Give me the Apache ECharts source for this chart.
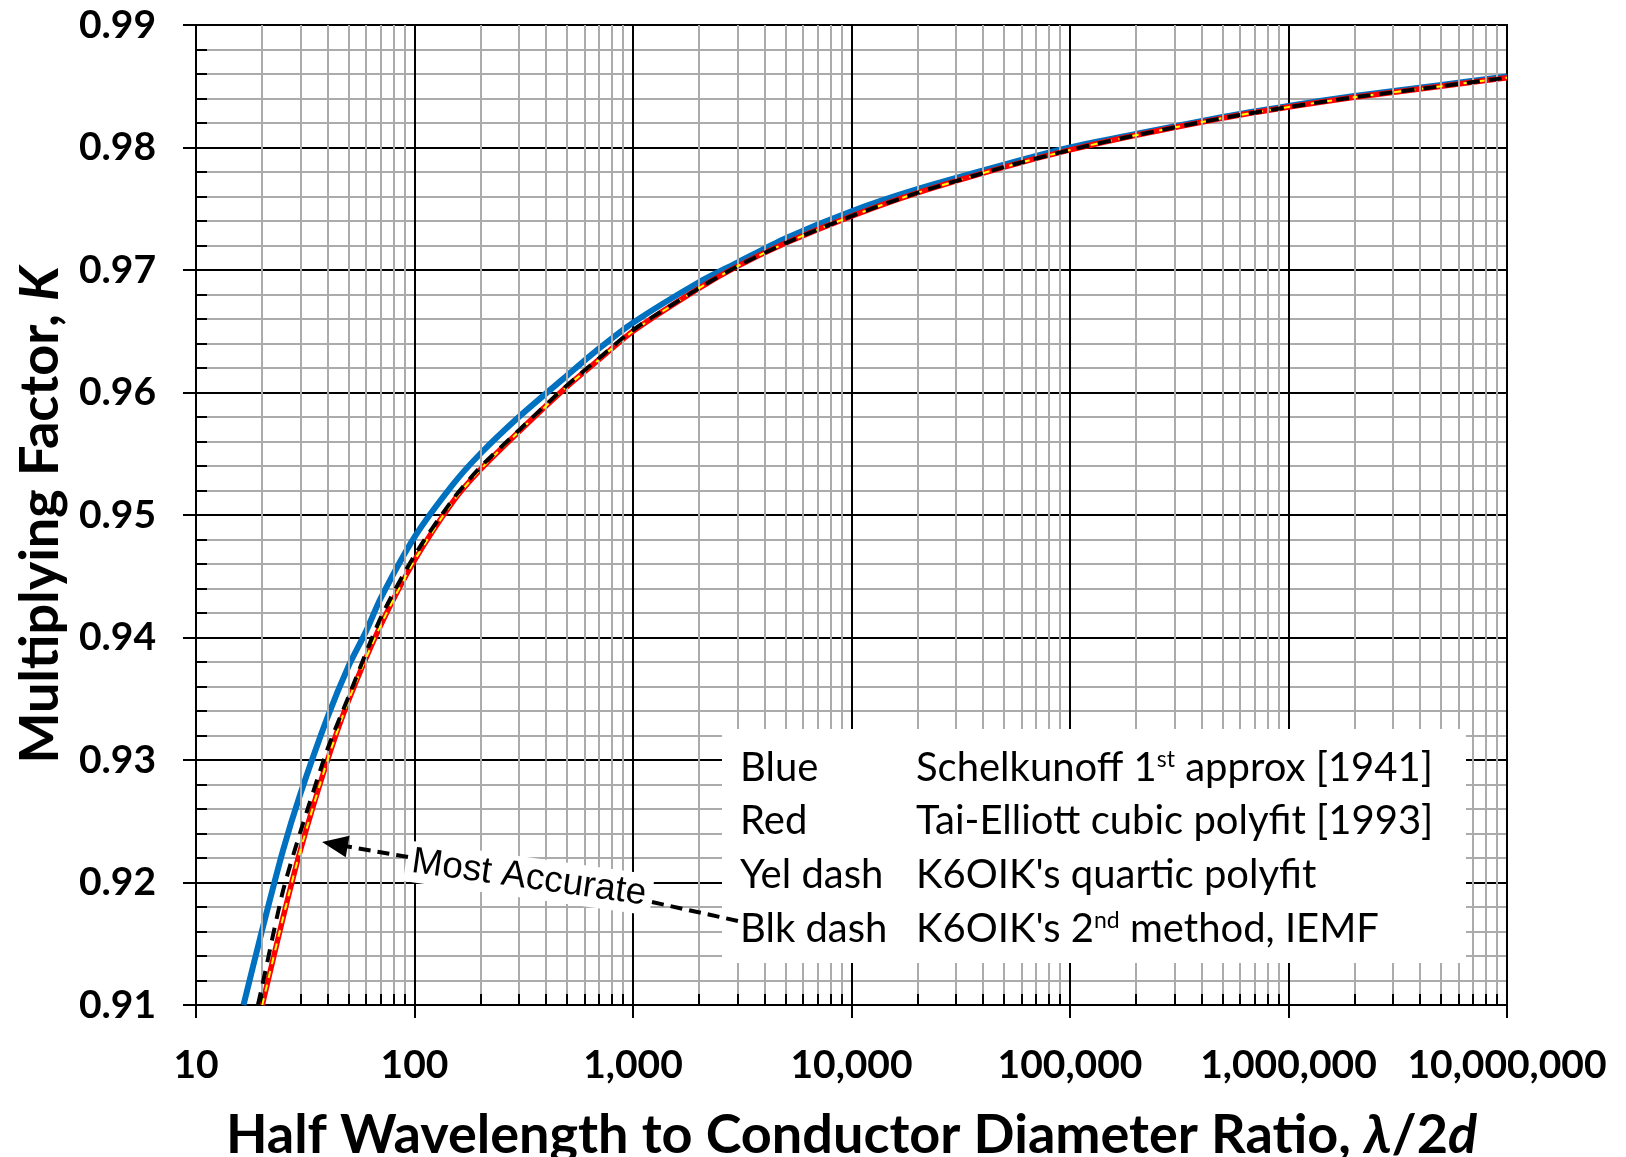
<!DOCTYPE html>
<html><head><meta charset="utf-8">
<script src="https://cdn.jsdelivr.net/npm/echarts@6/dist/echarts.min.js"></script>
<style>html,body{margin:0;padding:0;background:#fff}#c{width:1626px;height:1157px}</style>
</head><body><div id="c"></div>
<script>
// ---- tick labels ----
const xTickLabels = ['10', '100', '1,000', '10,000', '100,000', '1,000,000', '10,000,000'];
const yTickLabels = ['0.91', '0.92', '0.93', '0.94', '0.95', '0.96', '0.97', '0.98', '0.99'];
const minorMultipliers = [2, 3, 4, 5, 6, 7, 8, 9];
const decades = [10, 100, 1000, 10000, 100000, 1000000];

// ---- series values (lambda/2d ratio, K) ----
const blueX = [16.5, 20, 25, 30, 40, 50, 60, 70, 100, 150, 200, 300, 500, 700, 1000, 2000, 3000, 5000, 1e4, 2e4, 5e4, 1e5, 2e5, 5e5, 1e6, 2e6, 5e6, 1e7];
const blueK = [0.9100, 0.9160, 0.9226, 0.9272, 0.9335, 0.9377, 0.9405, 0.9432, 0.9482, 0.9525, 0.9550, 0.9580, 0.9614, 0.9636, 0.9657, 0.9690, 0.9706, 0.9726, 0.9748, 0.9766, 0.9786, 0.9800, 0.9811, 0.9825, 0.9834, 0.9842, 0.9851, 0.9858];

const redX = [20.1, 25, 30, 40, 50, 70, 100, 150, 200, 300, 500, 700, 1000, 2000, 3000, 5000, 1e4, 2e4, 5e4, 1e5, 2e5, 5e5, 1e6, 2e6, 5e6, 1e7];
const redK = [0.9100, 0.9171, 0.9226, 0.9300, 0.9349, 0.9410, 0.9463, 0.9511, 0.9537, 0.9568, 0.9605, 0.9627, 0.9650, 0.9685, 0.9703, 0.9722, 0.9744, 0.9763, 0.9784, 0.9798, 0.9810, 0.9824, 0.9833, 0.9841, 0.9850, 0.9857];

const yelX = [20.1, 25, 30, 40, 50, 70, 100, 150, 200, 300, 500, 700, 1000, 2000, 3000, 5000, 1e4, 2e4, 5e4, 1e5, 2e5, 5e5, 1e6, 2e6, 5e6, 1e7];
const yelK = [0.9100, 0.9171, 0.9226, 0.9300, 0.9349, 0.9410, 0.9463, 0.9511, 0.9537, 0.9568, 0.9605, 0.9627, 0.9650, 0.9685, 0.9703, 0.9722, 0.9744, 0.9763, 0.9784, 0.9798, 0.9810, 0.9824, 0.9833, 0.9841, 0.9850, 0.9857];

const blkX = [19.2, 20, 25, 30, 40, 50, 70, 100, 150, 200, 300, 500, 700, 1000, 2000, 3000, 5000, 1e4, 2e4, 5e4, 1e5, 2e5, 5e5, 1e6, 2e6, 5e6, 1e7];
const blkK = [0.9100, 0.9114, 0.9193, 0.9241, 0.9309, 0.9352, 0.9416, 0.9467, 0.9513, 0.9539, 0.9569, 0.9606, 0.9628, 0.9651, 0.9685, 0.9703, 0.9722, 0.9744, 0.9763, 0.9784, 0.9798, 0.9810, 0.9824, 0.9833, 0.9841, 0.9850, 0.9857];

const legendRows = [
  ['Blue', 'Schelkunoff 1{sup|st} approx [1941]'],
  ['Red', 'Tai-Elliott cubic polyfit [1993]'],
  ['Yel dash', "K6OIK's quartic polyfit"],
  ['Blk dash', "K6OIK's 2{sup|nd} method, IEMF"]
];

const pair = (xs, ks) => xs.map((x, i) => [x, ks[i]]);
const minorX = [];
decades.forEach(d => minorMultipliers.forEach(m => minorX.push(m * d)));

const FONT = 'Lato';
const GRAY = '#ABABAB';
const chart = echarts.init(document.getElementById('c'), null, {renderer: 'canvas'});

function lineCurve(name, data, color, width, z, dash) {
  return {
    name, type: 'line', data, z, showSymbol: false, symbol: 'none',
    smooth: 0.25, animation: false, silent: true,
    lineStyle: {color, width, type: dash || 'solid', cap: 'butt'}
  };
}

const yAxisBase = {type: 'value', min: 0.91, max: 0.99, interval: 0.01};
const titleStyle = {
  color: '#000', fontFamily: FONT, fontWeight: 'bold', fontSize: 54,
  rich: {i: {fontFamily: FONT, fontWeight: 'bold', fontStyle: 'italic', fontSize: 54, color: '#000'}}
};

const option = {
  backgroundColor: '#fff',
  animation: false,
  grid: {left: 196, right: 119, top: 25, bottom: 152, containLabel: false, outerBoundsMode: 'none',
    show: true, borderColor: '#000', borderWidth: 2, backgroundColor: 'transparent'},
  xAxis: [{
    type: 'log', logBase: 10, min: 10, max: 1e7, interval: 1,
    axisLine: {show: true, lineStyle: {color: '#000', width: 2}},
    axisTick: {show: true, length: 13, lineStyle: {color: '#000', width: 2}},
    splitLine: {show: true, lineStyle: {color: '#000', width: 2}},
    axisLabel: {
      show: true, margin: 41, color: '#000', fontFamily: FONT, fontWeight: 'bold', fontSize: 39,
      formatter: v => xTickLabels[Math.round(Math.log10(v)) - 1]
    },
    name: 'Half Wavelength to Conductor Diameter Ratio, {i|λ}/2{i|d}',
    nameLocation: 'middle', nameGap: 104,
    nameTextStyle: titleStyle
  }],
  yAxis: [Object.assign({}, yAxisBase, {
    position: 'left',
    axisLine: {show: true, lineStyle: {color: '#000', width: 2}},
    axisTick: {show: true, length: 13, lineStyle: {color: '#000', width: 2}},
    minorTick: {show: false, splitNumber: 5},
    splitLine: {show: true, lineStyle: {color: '#000', width: 2}},
    minorSplitLine: {show: true, lineStyle: {color: GRAY, width: 2}},
    axisLabel: {
      margin: 40, color: '#000', fontFamily: FONT, fontWeight: 'bold', fontSize: 39,
      formatter: v => yTickLabels[Math.round((v - 0.91) * 100)]
    },
    name: 'Multiplying Factor, {i|K}',
    nameLocation: 'middle', nameRotate: 90, nameGap: 126,
    nameTextStyle: titleStyle
  }), Object.assign({}, yAxisBase, {
    position: 'left', offset: 0,
    axisLine: {show: false},
    axisTick: {show: false, inside: true},
    minorTick: {show: true, splitNumber: 5, length: 11, lineStyle: {color: '#000', width: 2}},
    splitLine: {show: false},
    axisLabel: {show: false}
  })],
  series: [
    {
      name: 'grid-minor', type: 'line', data: [], z: 1, silent: true, animation: false,
      markLine: {
        silent: true, animation: false, symbol: ['none', 'none'], label: {show: false},
        lineStyle: {color: GRAY, width: 2, type: 'solid'},
        data: minorX.map(v => ({xAxis: v}))
      }
    },
    {
      name: 'minor-ticks', type: 'line', data: [], z: 2, silent: true, animation: false,
      markLine: {
        silent: true, animation: false, symbol: ['none', 'none'], label: {show: false},
        lineStyle: {color: '#000', width: 2, type: 'solid'},
        data: minorX.map(v => [{coord: [v, 0.91]}, {coord: [v, 0.9109]}])
      }
    },
    lineCurve('Blue', pair(blueX, blueK), '#0070C0', 6, 3),
    lineCurve('Red', pair(redX, redK), '#FF0000', 5.5, 4),
    lineCurve('Yel dash', pair(yelX, yelK), '#FFFF00', 2, 5, [7, 7]),
    lineCurve('Blk dash', pair(blkX, blkK), '#000000', 4, 6, [13, 9])
  ],
  graphic: []
};
chart.setOption(option);

// ---- annotations ----
const g = [];
g.push({type: 'rect', z: 20, silent: true, shape: {x: 722, y: 729, width: 744, height: 234}, style: {fill: '#fff'}});
const rowY = [768, 821, 875, 929];
legendRows.forEach((r, i) => {
  const rich = {sup: {fontFamily: FONT, fontSize: 23, verticalAlign: 'top', lineHeight: 30, fill: '#000'}};
  g.push({type: 'text', z: 21, silent: true, x: 740, y: rowY[i],
    style: {text: r[0], fill: '#000', fontFamily: FONT, fontSize: 40, verticalAlign: 'middle', align: 'left'}});
  g.push({type: 'text', z: 21, silent: true, x: 916, y: rowY[i],
    style: {text: r[1], fill: '#000', fontFamily: FONT, fontSize: 40, verticalAlign: 'middle', align: 'left', rich: rich}});
});
const ang = 8 * Math.PI / 180;
g.push({type: 'text', z: 21, silent: true, x: 529, y: 878, rotation: -ang,
  style: {text: 'Most Accurate', fill: '#000', fontFamily: 'Liberation Sans', fontSize: 37, align: 'center', verticalAlign: 'middle',
    backgroundColor: '#fff', padding: [2, 6, 2, 6]}});
const tip = [322, 842], tail = [408, 857];
const dx = tip[0] - tail[0], dy = tip[1] - tail[1];
const L = Math.hypot(dx, dy), ux = dx / L, uy = dy / L;
const headLen = 26, headW = 11;
const base = [tip[0] - ux * headLen, tip[1] - uy * headLen];
g.push({type: 'line', z: 22, silent: true, shape: {x1: tail[0], y1: tail[1], x2: base[0] + ux * 2, y2: base[1] + uy * 2},
  style: {stroke: '#000', lineWidth: 4, lineDash: [12, 7]}});
g.push({type: 'polygon', z: 22, silent: true, shape: {points: [tip, [base[0] - uy * headW, base[1] + ux * headW], [base[0] + uy * headW, base[1] - ux * headW]]},
  style: {fill: '#000'}});
g.push({type: 'line', z: 22, silent: true, shape: {x1: 652, y1: 902, x2: 738, y2: 921},
  style: {stroke: '#000', lineWidth: 4, lineDash: [12, 7]}});

chart.setOption({graphic: g});
</script></body></html>
